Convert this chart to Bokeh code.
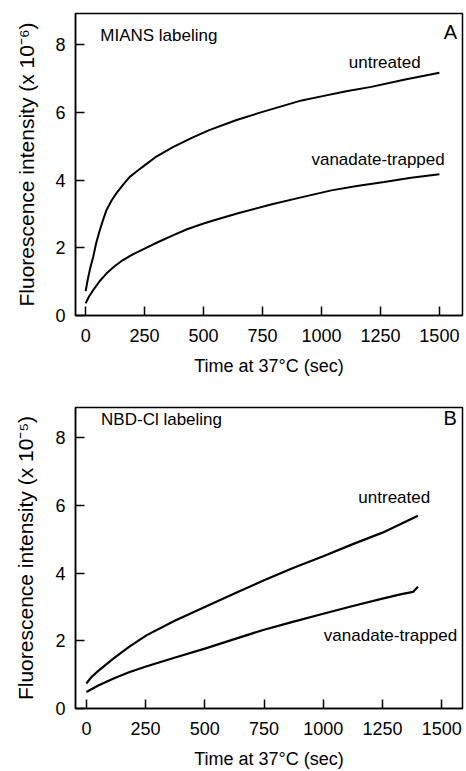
from bokeh.plotting import figure
from bokeh.models import Label, Range1d, FixedTicker
from bokeh.layouts import column
from bokeh.embed import file_html
from bokeh.resources import INLINE

# ---- data ----
x_ticks = [0, 250, 500, 750, 1000, 1250, 1500]
y_ticks = [0, 2, 4, 6, 8]

# Panel A: MIANS labeling (x 10^-6)
a_untreated_t = [0, 10, 20, 32, 45, 60, 75, 88, 110, 130, 160, 187, 220, 250, 300, 370,
                 450, 524, 640, 750, 916, 1000, 1105, 1211, 1350, 1500]
a_untreated_y = [0.72, 1.10, 1.42, 1.73, 2.15, 2.52, 2.85, 3.11, 3.40, 3.61, 3.88, 4.10,
                 4.28, 4.44, 4.70, 4.98, 5.25, 5.48, 5.78, 6.02, 6.36, 6.48, 6.63, 6.76,
                 6.97, 7.18]
a_vanadate_t = [0, 15, 32, 60, 88, 120, 158, 200, 250, 310, 370, 430, 500, 570, 650, 790,
                900, 1042, 1150, 1266, 1380, 1500]
a_vanadate_y = [0.36, 0.57, 0.75, 1.02, 1.24, 1.44, 1.64, 1.81, 1.98, 2.18, 2.37, 2.55,
                2.72, 2.87, 3.03, 3.29, 3.47, 3.70, 3.83, 3.95, 4.07, 4.18]

# Panel B: NBD-Cl labeling (x 10^-5)
b_untreated_t = [0, 20, 45, 80, 115, 180, 255, 375, 500, 625, 750, 875, 1000, 1125, 1250, 1400]
b_untreated_y = [0.74, 0.92, 1.08, 1.28, 1.48, 1.82, 2.17, 2.60, 3.00, 3.40, 3.79, 4.16,
                 4.50, 4.86, 5.20, 5.70]
b_vanadate_t = [0, 50, 115, 180, 255, 375, 500, 625, 750, 875, 1000, 1125, 1250, 1330, 1380, 1400]
b_vanadate_y = [0.49, 0.68, 0.89, 1.07, 1.25, 1.51, 1.77, 2.05, 2.33, 2.57, 2.80, 3.03,
                3.25, 3.38, 3.45, 3.60]

FONT = "Liberation Sans"


def panel(height, left, right, top, bottom, xr, yr, ylabel, ylabel_standoff):
    p = figure(width=466, height=height, output_backend="svg", toolbar_location=None,
               x_range=Range1d(*xr), y_range=Range1d(*yr),
               min_border_left=left, min_border_right=right,
               min_border_top=top, min_border_bottom=bottom)
    p.grid.visible = False
    p.background_fill_color = "white"
    p.border_fill_color = "white"
    p.outline_line_color = "black"
    p.outline_line_width = 1.5
    p.outline_line_alpha = 1.0
    for ax in (p.xaxis[0], p.yaxis[0]):
        ax.major_tick_in = 9
        ax.major_tick_out = 0
        ax.minor_tick_line_color = None
        ax.axis_line_width = 1.5
        ax.axis_line_color = "black"
        ax.major_tick_line_width = 1.5
        ax.major_tick_line_color = "black"
        ax.major_label_text_font = FONT
        ax.major_label_text_font_size = "18px"
        ax.major_label_text_color = "black"
        ax.axis_label_text_font = FONT
        ax.axis_label_text_font_style = "normal"
        ax.axis_label_text_color = "black"
    p.xaxis.major_label_standoff = 13
    p.yaxis.major_label_standoff = 10
    p.xaxis.ticker = FixedTicker(ticks=x_ticks)
    p.yaxis.ticker = FixedTicker(ticks=y_ticks)
    p.xaxis.axis_label = "Time at 37°C (sec)"
    p.xaxis.axis_label_text_font_size = "18px"
    p.xaxis.axis_label_standoff = 11
    p.yaxis.axis_label = ylabel
    p.yaxis.axis_label_text_font_size = "21px"
    p.yaxis.axis_label_standoff = ylabel_standoff
    return p


def txt(p, x, y, s, size="17px", align="center"):
    p.add_layout(Label(x=x, y=y, text=s, text_font=FONT, text_font_size=size,
                       text_align=align, text_baseline="middle", text_color="black"))


# Panel A
pa = panel(383, 72, 4, 13, 68, (-43, 1598), (0, 8.93),
           "Fluorescence intensity (x 10\u207b\u2076)", 14)
pa.line(a_untreated_t, a_untreated_y, line_color="black", line_width=2)
pa.line(a_vanadate_t, a_vanadate_y, line_color="black", line_width=2)
txt(pa, 62, 8.28, "MIANS labeling", align="left")
txt(pa, 1547, 8.39, "A", size="20px")
txt(pa, 1268, 7.49, "untreated")
txt(pa, 1240, 4.61, "vanadate-trapped")

# Panel B
pb = panel(388, 75, 2, 24, 63, (-46, 1588), (0, 8.9),
           "Fluorescence intensity (x 10\u207b\u2075)", 15)
pb.line(b_untreated_t, b_untreated_y, line_color="black", line_width=2.2)
pb.line(b_vanadate_t, b_vanadate_y, line_color="black", line_width=2.2)
txt(pb, 62, 8.55, "NBD-Cl labeling", align="left")
txt(pb, 1536, 8.6, "B", size="20px")
txt(pb, 1300, 6.24, "untreated")
txt(pb, 1284, 2.17, "vanadate-trapped")

layout = column(pa, pb)
open("out.html", "w").write(file_html(layout, INLINE))
